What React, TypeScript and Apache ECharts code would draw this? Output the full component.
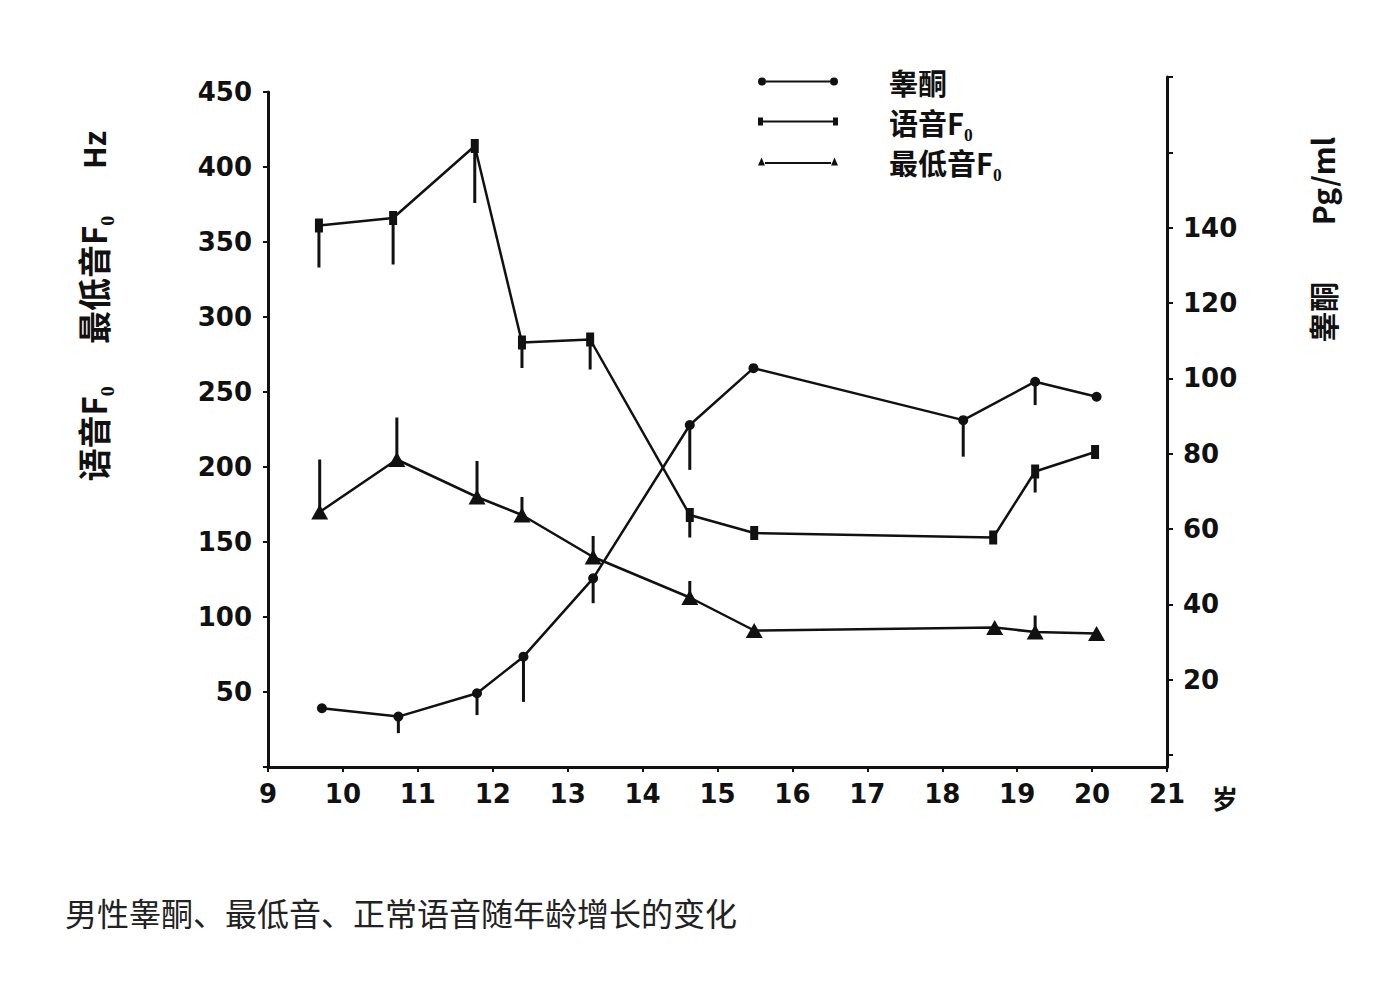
import { useEffect, useRef } from "react";
import * as echarts from "echarts";

// 睾酮 (pg/ml, right axis)
const TESTO_AGES = [9.72, 10.74, 11.79, 12.41, 13.34, 14.63, 15.48, 18.28, 19.24, 20.06];
const TESTO = [12.4, 10.2, 16.4, 26.1, 46.9, 87.6, 102.7, 88.9, 99.1, 95.1];
const TESTO_ERR = [null, 5.8, 10.6, 14.1, 40.3, 75.7, null, 79.2, 92.9, null];

// 语音F0 (Hz, left axis)
const SPEECH_AGES = [9.68, 10.67, 11.76, 12.39, 13.3, 14.63, 15.49, 18.68, 19.24, 20.04];
const SPEECH = [361, 366, 414, 283, 285, 168, 156, 153, 197, 210];
const SPEECH_ERR = [333, 335, 376, 266, 265, 153, null, null, 183, null];

// 最低音F0 (Hz, left axis)
const LOWEST_AGES = [9.69, 10.72, 11.79, 12.39, 13.34, 14.63, 15.49, 18.7, 19.24, 20.06];
const LOWEST = [170, 205, 180, 168, 140, 113, 91, 93, 90, 89];
const LOWEST_ERR = [205, 233, 204, 180, 154, 124, null, null, 101, null];

const SERIES_NAMES = ["睾酮", "语音F₀", "最低音F₀"];
const CAPTION = "男性睾酮、最低音、正常语音随年龄增长的变化";

const INK = "#111";
const NUM_FONT = { fontFamily: "DejaVu Sans", fontWeight: "bold" as const, fontSize: 26, color: INK };

const pairs = (xs: number[], ys: number[]) => xs.map((x, i) => [x, ys[i]]);
const bars = (xs: number[], ys: number[], ends: (number | null)[]) =>
  xs.map((x, i) => [x, ys[i], ends[i]]).filter((r) => r[2] != null);

const errorBarSeries = (data: any[], xIdx: number, yIdx: number) => ({
  type: "custom",
  xAxisIndex: xIdx,
  yAxisIndex: yIdx,
  data,
  silent: true,
  z: 1,
  renderItem: (_p: any, api: any) => {
    const a = api.coord([api.value(0), api.value(1)]);
    const b = api.coord([api.value(0), api.value(2)]);
    return {
      type: "line",
      shape: { x1: a[0], y1: a[1], x2: b[0], y2: b[1] },
      style: { stroke: INK, lineWidth: 3 },
    };
  },
});

// rotated axis-title piece
const vText = (text: string, x: number, y: number, size: number) => ({
  type: "text",
  x,
  y,
  rotation: Math.PI / 2,
  style: {
    text,
    font: `bold ${size}px "Noto Sans CJK SC"`,
    fill: INK,
    align: "center",
    verticalAlign: "middle",
  },
});

export default function App() {
  const chartRef = useRef<HTMLDivElement>(null);

  useEffect(() => {
    if (!chartRef.current) return;
    const chart = echarts.init(chartRef.current, null, { renderer: "svg" });

    const lineStyle = { color: INK, width: 2.5 };

    chart.setOption({
      animation: false,
      backgroundColor: "#fff",
      color: [INK, INK, INK],
      grid: [
        { left: 260, right: 201, top: 84, bottom: 207 },
        { left: 260, right: 201, top: 69, bottom: 219 },
      ],
      legend: {
        orient: "vertical",
        left: 745,
        top: 54,
        itemWidth: 80,
        itemHeight: 8,
        itemGap: 11,
        selectedMode: false,
        textStyle: {
          fontFamily: "Noto Sans CJK SC",
          fontWeight: "bold",
          fontSize: 29,
          color: INK,
          padding: [0, 0, 0, 46],
        },
        data: [
          {
            name: SERIES_NAMES[0],
            icon: "path://M0,4a4,4 0 1,0 8,0a4,4 0 1,0 -8,0z M72,4a4,4 0 1,0 8,0a4,4 0 1,0 -8,0z M8,3.1h64v1.8h-64z",
          },
          {
            name: SERIES_NAMES[1],
            icon: "path://M0,0h5v8h-5z M75,0h5v8h-5z M5,3.1h70v1.8h-70z",
          },
          {
            name: SERIES_NAMES[2],
            icon: "path://M0,8L3.5,0L7,8z M73,8L76.5,0L80,8z M7,4.6h66v1.8h-66z",
          },
        ],
      },
      xAxis: [
        {
          type: "value",
          gridIndex: 0,
          min: 9,
          max: 21,
          interval: 1,
          axisLine: { lineStyle: { color: INK, width: 3 } },
          axisTick: { length: 5, lineStyle: { color: INK, width: 2 } },
          axisLabel: { ...NUM_FONT, margin: 14 },
          splitLine: { show: false },
        },
        { type: "value", gridIndex: 1, min: 9, max: 21, show: false },
      ],
      yAxis: [
        {
          type: "value",
          gridIndex: 0,
          position: "left",
          min: 0,
          max: 450,
          interval: 50,
          axisLine: { show: true, lineStyle: { color: INK, width: 3 } },
          axisTick: { show: true, length: 5, lineStyle: { color: INK, width: 2 } },
          axisLabel: { ...NUM_FONT, margin: 16, formatter: (v: number) => (v === 0 ? "" : String(v)) },
          splitLine: { show: false },
        },
        {
          type: "value",
          gridIndex: 0,
          position: "right",
          min: 0,
          max: 450,
          axisLine: { show: true, lineStyle: { color: INK, width: 3 } },
          axisTick: { show: false },
          axisLabel: { show: false },
          splitLine: { show: false },
        },
        {
          type: "value",
          gridIndex: 1,
          position: "right",
          min: 0,
          max: 180,
          interval: 20,
          axisLine: { show: true, lineStyle: { color: INK, width: 3 } },
          axisTick: { show: true, length: 6, lineStyle: { color: INK, width: 2 } },
          axisLabel: {
            ...NUM_FONT,
            margin: 16,
            formatter: (v: number) => (v === 0 || v > 140 ? "" : String(v)),
          },
          splitLine: { show: false },
        },
      ],
      series: [
        {
          name: SERIES_NAMES[0],
          type: "line",
          xAxisIndex: 1,
          yAxisIndex: 2,
          data: pairs(TESTO_AGES, TESTO),
          symbol: "circle",
          symbolSize: 10,
          lineStyle,
          itemStyle: { color: INK },
          z: 3,
        },
        {
          name: SERIES_NAMES[1],
          type: "line",
          xAxisIndex: 0,
          yAxisIndex: 0,
          data: pairs(SPEECH_AGES, SPEECH),
          symbol: "rect",
          symbolSize: [8, 14],
          lineStyle,
          itemStyle: { color: INK },
          z: 3,
        },
        {
          name: SERIES_NAMES[2],
          type: "line",
          xAxisIndex: 0,
          yAxisIndex: 0,
          data: pairs(LOWEST_AGES, LOWEST),
          symbol: "triangle",
          symbolSize: [17, 15],
          lineStyle,
          itemStyle: { color: INK },
          z: 3,
        },
        errorBarSeries(bars(TESTO_AGES, TESTO, TESTO_ERR), 1, 2),
        errorBarSeries(bars(SPEECH_AGES, SPEECH, SPEECH_ERR), 0, 0),
        errorBarSeries(bars(LOWEST_AGES, LOWEST, LOWEST_ERR), 0, 0),
      ],
      graphic: [
        vText("语音F₀", 85, 426, 33),
        vText("最低音F₀", 85, 272, 33),
        vText("Hz", 85, 142, 30),
        vText("Pg/ml", 1314, 173, 30),
        vText("睾酮", 1314, 304, 30),
        {
          type: "text",
          x: 1217,
          y: 789,
          style: {
            text: "岁",
            font: 'bold 26px "Noto Sans CJK SC"',
            fill: INK,
            align: "center",
            verticalAlign: "middle",
          },
        },
        {
          type: "text",
          x: 57,
          y: 904,
          style: {
            text: CAPTION,
            font: '32px "Noto Sans CJK SC"',
            fill: "#222",
            align: "left",
            verticalAlign: "middle",
          },
        },
      ],
    });

    return () => {
      chart.dispose();
    };
  }, []);

  return <div ref={chartRef} style={{ width: "1360px", height: "966px" }} />;
}
